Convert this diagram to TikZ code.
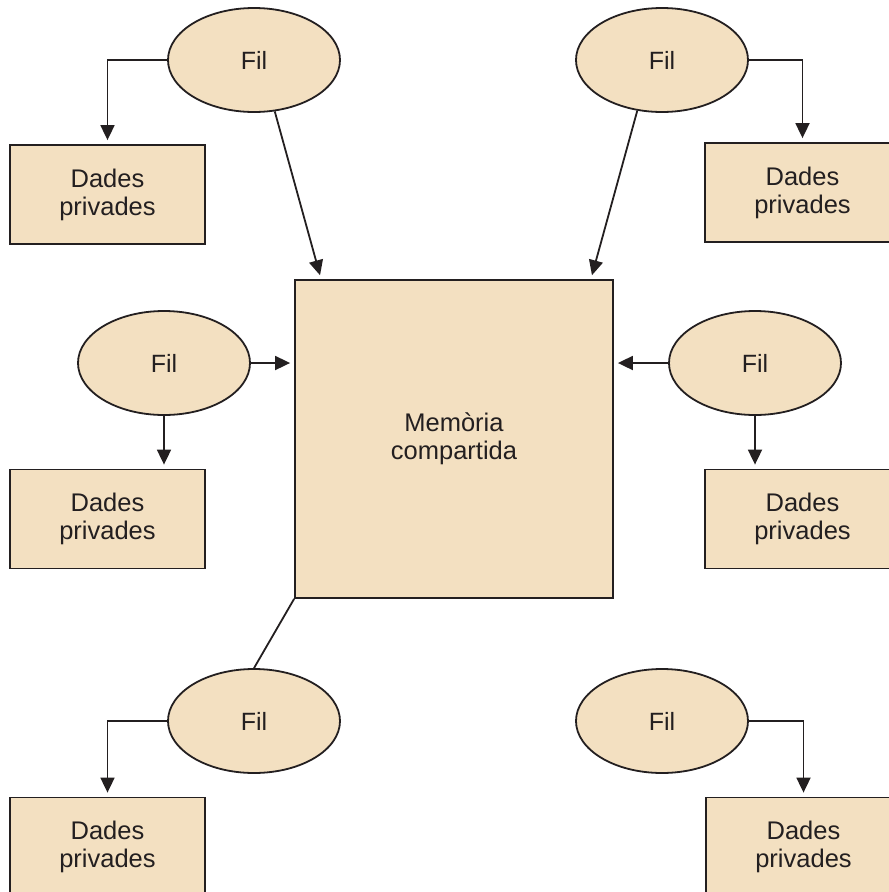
\documentclass[tikz,border=0pt]{standalone}
\usepackage{fontspec}
\setmainfont{Liberation Sans}
\usetikzlibrary{shapes.geometric,arrows.meta}
\definecolor{beige}{HTML}{F3E0C1}
\definecolor{ink}{HTML}{231F20}
\tikzset{
  fil/.style={ellipse, draw=ink, line width=1.8pt, fill=beige, minimum width=172pt, minimum height=104pt, inner sep=0pt, text=ink, font=\fontsize{25}{28}\selectfont},
  dades/.style={rectangle, draw=ink, line width=1.8pt, fill=beige, minimum width=195pt, minimum height=99pt, inner sep=0pt, align=center, text=ink, font=\fontsize{25.5}{28}\selectfont},
  memo/.style={rectangle, draw=ink, line width=1.8pt, fill=beige, minimum width=318pt, minimum height=318pt, inner sep=0pt, align=center, text=ink, font=\fontsize{25.5}{28}\selectfont},
  link/.style={draw=ink, line width=1.8pt},
  arr/.style={link, -{Triangle[width=14pt,length=15pt]}, shorten >=4pt}
}
\begin{document}
\begin{tikzpicture}[x=1pt,y=-1pt]
\useasboundingbox (0,0) rectangle (889,892);
\clip (0,0) rectangle (889,892);

% shared memory
\node[memo] (mem) at (454,439) {Memòria\\compartida};

% threads
\node[fil] (f1) at (254,60) {Fil};
\node[fil] (f2) at (662,60) {Fil};
\node[fil] (f3) at (164,363) {Fil};
\node[fil] (f4) at (755,363) {Fil};
\node[fil] (f5) at (254,721) {Fil};
\node[fil] (f6) at (662,721) {Fil};

% private data
\node[dades] (d1) at (107.5,194.5) {Dades\\privades};
\node[dades] (d2) at (802.5,192.5) {Dades\\privades};
\node[dades] (d3) at (107.5,519) {Dades\\privades};
\node[dades] (d4) at (802.5,519) {Dades\\privades};
\node[dades] (d5) at (107.5,847) {Dades\\privades};
\node[dades] (d6) at (803.5,847) {Dades\\privades};

% threads to their private data
\draw[arr] (f1.west) -| (d1.north);
\draw[arr] (f2.east) -| (d2.north);
\draw[arr] (f3.south) -- (d3.north -| f3.south);
\draw[arr] (f4.south) -- (d4.north -| f4.south);
\draw[arr] (f5.west) -| (d5.north);
\draw[arr] (f6.east) -| (d6.north);

% threads to shared memory
\draw[arr] (f1.-68) -- ([xshift=27pt]mem.north west);
\draw[arr] (f2.-116.6) -- ([xshift=-23pt]mem.north east);
\draw[arr] (f3.east) -- (f3.east -| mem.west);
\draw[arr] (f4.west) -- (f4.west -| mem.east);
\draw[link] (mem.south west) -- (f5.north);
\end{tikzpicture}
\end{document}
